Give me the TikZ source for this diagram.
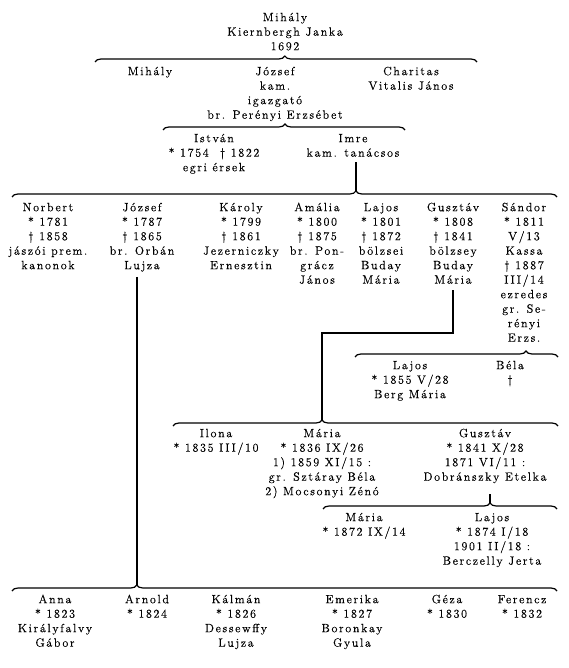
\documentclass[tikz,border=0pt]{standalone}
\usepackage{fontspec}
\setmainfont{Latin Modern Roman}[LetterSpace=14, FakeBold=0.4]
\usetikzlibrary{decorations.pathreplacing}
\newcommand{\pfont}{\fontsize{12}{14.5}\selectfont}
\newcommand{\fl}{\rule{0pt}{10pt}}
\begin{document}
\begin{tikzpicture}[x=1pt,y=-1pt,
  per/.style={align=center, inner sep=0pt, anchor=north, font=\pfont},
  fam/.style={decorate, line width=1.2pt, decoration={brace, amplitude=6pt, aspect=#1}},
  conn/.style={line width=1.2pt}]
\useasboundingbox (0,0) rectangle (569,668);
% brace end points and peaks
\coordinate (b1l) at (95,62);  \coordinate (b1r) at (477,62);  \coordinate (p1) at (285,56);
\coordinate (b2l) at (163,130); \coordinate (b2r) at (405,130); \coordinate (p2) at (285,124);
\coordinate (b3l) at (12,197); \coordinate (b3r) at (557,197); \coordinate (p3) at (356,191);
\coordinate (b4l) at (355,357); \coordinate (b4r) at (558,357); \coordinate (p4) at (526,351);
\coordinate (b5l) at (173,426); \coordinate (b5r) at (558,426); \coordinate (p5) at (322,420);
\coordinate (b6l) at (323,509); \coordinate (b6r) at (557,509); \coordinate (p6) at (490,503);
\coordinate (b7l) at (12,591); \coordinate (b7r) at (557,591); \coordinate (p7) at (137,585);
\draw[fam=0.497] (b1l) -- (b1r);
\draw[fam=0.504] (b2l) -- (b2r);
\draw[fam=0.631] (b3l) -- (b3r);
\draw[fam=0.842] (b4l) -- (b4r);
\draw[fam=0.387] (b5l) -- (b5r);
\draw[fam=0.714] (b6l) -- (b6r);
\draw[fam=0.229] (b7l) -- (b7r);
% generation 1
\node[per] (mihaly1) at (285,11) {\fl Mihály\\Kiernbergh Janka\\1692};
% generation 2
\node[per] (mihaly2) at (150,65) {\fl Mihály};
\node[per] (jozsef1) at (275,65) {\fl József\\kam.\\igazgató\\br. Perényi Erzsébet};
\node[per] (charitas) at (411,65) {\fl Charitas\\Vitalis János};
% generation 3
\node[per] (istvan) at (214,132) {\fl István\\* 1754 \ † 1822\\egri érsek};
\node[per] (imre) at (353,132) {\fl Imre\\kam. tanácsos};
% generation 4
\node[per] (norbert) at (48,201) {\fl Norbert\\* 1781\\† 1858\\jászói prem.\\kanonok};
\node[per] (jozsef2) at (142,201) {\fl József\\* 1787\\† 1865\\br. Orbán\\Lujza};
\node[per] (karoly) at (241,201) {\fl Károly\\* 1799\\† 1861\\Jezerniczky\\Ernesztin};
\node[per] (amalia) at (317,201) {\fl Amália\\* 1800\\† 1875\\br. Pon-\\grácz\\János};
\node[per] (lajos1) at (381,201) {\fl Lajos\\* 1801\\† 1872\\bölzsei\\Buday\\Mária};
\node[per] (gusztav1) at (453,201) {\fl Gusztáv\\* 1808\\† 1841\\bölzsey\\Buday\\Mária};
\node[per] (sandor) at (524,201) {\fl Sándor\\* 1811\\V/13\\Kassa\\† 1887\\III/14\\ezredes\\gr. Se-\\rényi\\Erzs.};
% children of Sándor
\node[per] (lajos2) at (410,359) {\fl Lajos\\* 1855 V/28\\Berg Mária};
\node[per] (bela) at (510,359) {\fl Béla\\†};
% children of Gusztáv
\node[per] (ilona) at (216,427) {\fl Ilona\\* 1835 III/10};
\node[per] (maria1) at (322,427) {\fl Mária\\* 1836 IX/26\\1) 1859 XI/15 :\\gr. Sztáray Béla\\2) Mocsonyi Zénó};
\node[per] (gusztav2) at (485,427) {\fl Gusztáv\\* 1841 X/28\\1871 VI/11 :\\Dobránszky Etelka};
% children of Gusztáv (2)
\node[per] (maria2) at (364,511) {\fl Mária\\* 1872 IX/14};
\node[per] (lajos3) at (492,511) {\fl Lajos\\* 1874 I/18\\1901 II/18 :\\Berczelly Jerta};
% children of József
\node[per] (anna) at (55,593) {\fl Anna\\* 1823\\Királyfalvy\\Gábor};
\node[per] (arnold) at (147,593) {\fl Arnold\\* 1824};
\node[per] (kalman) at (236,593) {\fl Kálmán\\* 1826\\Dessewffy\\Lujza};
\node[per] (emerika) at (352,593) {\fl Emerika\\* 1827\\Boronkay\\Gyula};
\node[per] (geza) at (447,593) {\fl Géza\\* 1830};
\node[per] (ferencz) at (522,593) {\fl Ferencz\\* 1832};
% connectors
\draw[conn] ([yshift=-5pt]imre.south -| p3) -- (p3);
\draw[conn] ([yshift=-5pt]jozsef2.south -| p7) -- (p7);
\draw[conn] ([yshift=-6pt]gusztav1.south) |- ([yshift=87pt]p5) -- (p5);
\draw[conn] ([yshift=-11pt]gusztav2.south -| p6) -- (p6);
\end{tikzpicture}
\end{document}
